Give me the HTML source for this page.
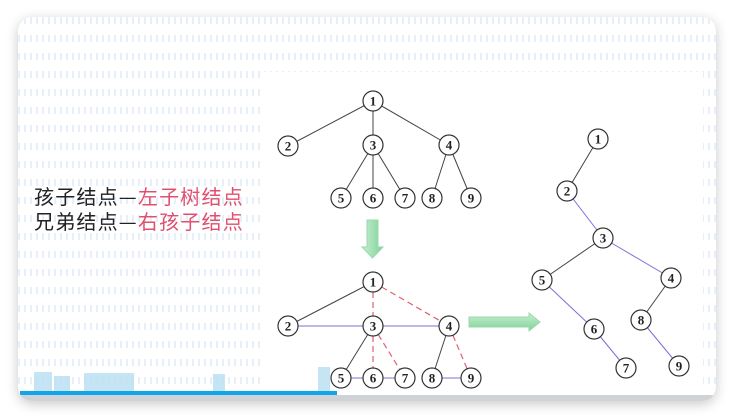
<!DOCTYPE html>
<html><head><meta charset="utf-8"><style>
html,body{margin:0;padding:0;background:#fff;width:734px;height:420px;overflow:hidden}
.card{position:absolute;left:18px;top:17px;width:698px;height:384px;border-radius:14px;background:#fff;box-shadow:0 3px 12px rgba(0,0,0,0.22);overflow:hidden}
.pat{position:absolute;left:0;top:0;width:100%;height:100%;
background-image:repeating-linear-gradient(90deg,rgba(225,236,249,0.8) 0 2px,transparent 2px 6px);
-webkit-mask-image:repeating-linear-gradient(180deg,#000 0 7px,transparent 7px 18px);
mask-image:repeating-linear-gradient(180deg,#000 0 7px,transparent 7px 18px)}
.img{position:absolute;left:245px;top:55px;width:440px;height:325px;background:#fff}
.txt{position:absolute;left:16px;font:20px "Noto Sans CJK SC","Liberation Sans",sans-serif;letter-spacing:1.2px;color:#222;line-height:24px;white-space:nowrap}
.r{color:#e0506e}
.bar{position:absolute;left:2px;top:374px;width:317px;height:4px;background:#0ea5e9}
.strip{position:absolute;left:0;top:378px;width:100%;height:6px;background:#cfd3d8}
</style></head><body>
<div class="card">
<div class="pat"></div>
<div class="img"></div>
<div class="txt" style="top:167px">孩子结点—<span class="r">左子树结点</span></div>
<div class="txt" style="top:192px">兄弟结点—<span class="r">右孩子结点</span></div>
<svg style="position:absolute;left:0;top:0" width="698" height="384">
<g fill="#bfe2f3" opacity="0.9">
<rect x="16" y="355" width="18" height="19"/><rect x="36" y="359" width="16" height="15"/><rect x="66" y="356" width="50" height="18"/><rect x="195" y="357" width="12" height="17"/><rect x="300" y="350" width="12" height="24"/>
</g>
</svg>
<div class="strip"></div>
<div class="bar"></div>
</div>
<svg style="position:absolute;left:0;top:0" width="734" height="420" font-family="Liberation Serif,serif" font-weight="bold" font-size="13">
<defs>
<linearGradient id="gv" x1="0" x2="1"><stop offset="0" stop-color="#c8f0cf"/><stop offset="1" stop-color="#7fd19a"/></linearGradient>
<linearGradient id="gh" x1="0" x2="0" y1="0" y2="1"><stop offset="0" stop-color="#c8f0cf"/><stop offset="1" stop-color="#7fd19a"/></linearGradient>
</defs>
<g stroke="#444" stroke-width="1">
<line x1="373" y1="101" x2="288" y2="146"/><line x1="373" y1="101" x2="373" y2="145"/><line x1="373" y1="101" x2="449" y2="145"/>
<line x1="373" y1="145" x2="341" y2="198"/><line x1="373" y1="145" x2="373" y2="198"/><line x1="373" y1="145" x2="405" y2="198"/>
<line x1="449" y1="145" x2="432" y2="198"/><line x1="449" y1="145" x2="471" y2="198"/>
<line x1="373" y1="282" x2="288" y2="326"/><line x1="373" y1="326" x2="341" y2="378"/><line x1="449" y1="326" x2="432" y2="378"/>
<line x1="598" y1="139" x2="567" y2="191"/><line x1="603" y1="238" x2="542" y2="280"/><line x1="671" y1="278" x2="641" y2="320"/>
</g>
<g stroke="#7b6fd8" stroke-width="1">
<line x1="288" y1="326" x2="449" y2="326"/><line x1="341" y1="378" x2="405" y2="378"/><line x1="432" y1="378" x2="471" y2="378"/>
<line x1="567" y1="191" x2="603" y2="238"/><line x1="603" y1="238" x2="671" y2="278"/><line x1="542" y1="280" x2="594" y2="329"/><line x1="594" y1="329" x2="626" y2="368"/><line x1="641" y1="320" x2="679" y2="366"/>
</g>
<g stroke="#e06070" stroke-width="1.2" stroke-dasharray="6,4">
<line x1="373" y1="282" x2="373" y2="326"/><line x1="373" y1="282" x2="449" y2="326"/><line x1="373" y1="326" x2="373" y2="378"/><line x1="373" y1="326" x2="405" y2="378"/><line x1="449" y1="326" x2="471" y2="378"/>
</g>
<path d="M367 220H378V247H383L372.5 258L362 247H367Z" fill="url(#gv)" stroke="#9ad8ab"/>
<path d="M469 317H529V313L540 322L529 331V327H469Z" fill="url(#gh)" stroke="#9ad8ab"/>
<g fill="#fff" stroke="#333" stroke-width="1.2">
<circle cx="373" cy="101" r="10"/><circle cx="288" cy="146" r="10"/><circle cx="373" cy="145" r="10"/><circle cx="449" cy="145" r="10"/><circle cx="341" cy="198" r="10"/><circle cx="373" cy="198" r="10"/><circle cx="405" cy="198" r="10"/><circle cx="432" cy="198" r="10"/><circle cx="471" cy="198" r="10"/>
<circle cx="373" cy="282" r="10"/><circle cx="288" cy="326" r="10"/><circle cx="373" cy="326" r="10"/><circle cx="449" cy="326" r="10"/><circle cx="341" cy="378" r="10"/><circle cx="373" cy="378" r="10"/><circle cx="405" cy="378" r="10"/><circle cx="432" cy="378" r="10"/><circle cx="471" cy="378" r="10"/>
<circle cx="598" cy="139" r="10"/><circle cx="567" cy="191" r="10"/><circle cx="603" cy="238" r="10"/><circle cx="542" cy="280" r="10"/><circle cx="671" cy="278" r="10"/><circle cx="641" cy="320" r="10"/><circle cx="594" cy="329" r="10"/><circle cx="626" cy="368" r="10"/><circle cx="679" cy="366" r="10"/>
</g>
<g fill="#222" text-anchor="middle" dominant-baseline="central">
<text x="373" y="101">1</text><text x="288" y="146">2</text><text x="373" y="145">3</text><text x="449" y="145">4</text><text x="341" y="198">5</text><text x="373" y="198">6</text><text x="405" y="198">7</text><text x="432" y="198">8</text><text x="471" y="198">9</text>
<text x="373" y="282">1</text><text x="288" y="326">2</text><text x="373" y="326">3</text><text x="449" y="326">4</text><text x="341" y="378">5</text><text x="373" y="378">6</text><text x="405" y="378">7</text><text x="432" y="378">8</text><text x="471" y="378">9</text>
<text x="598" y="139">1</text><text x="567" y="191">2</text><text x="603" y="238">3</text><text x="542" y="280">5</text><text x="671" y="278">4</text><text x="641" y="320">8</text><text x="594" y="329">6</text><text x="626" y="368">7</text><text x="679" y="366">9</text>
</g>
</svg>
</body></html>
